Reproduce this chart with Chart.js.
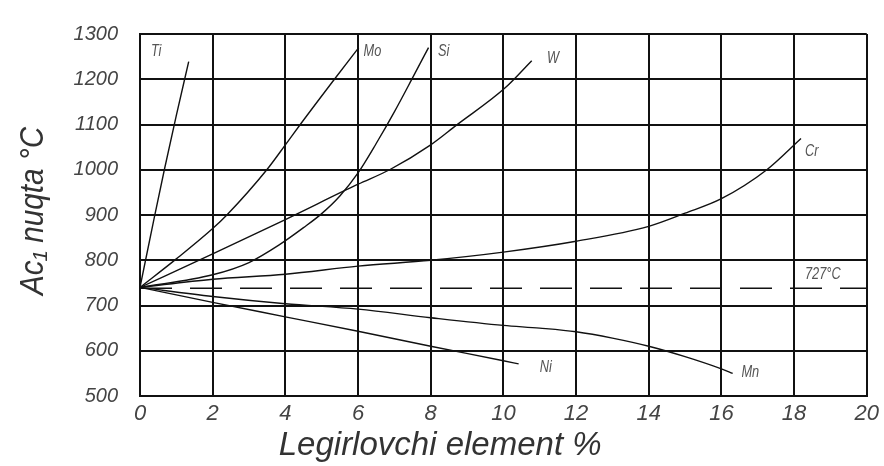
<!DOCTYPE html>
<html>
<head>
<meta charset="utf-8">
<script src="https://cdn.jsdelivr.net/npm/chart.js@4.4.1/dist/chart.umd.min.js"></script>
<style>
  html, body { margin: 0; padding: 0; background: #fff; }
  #wrap { width: 884px; height: 466px; }
</style>
</head>
<body>
<div id="wrap"><canvas id="chart" width="884" height="466"></canvas></div>
<script>
// Qotishma elementlari bo'yicha Ac1 nuqtasining o'zgarishi (rasmdan o'qilgan)
const tiX = [0, 0.39, 0.67, 1.0, 1.34];
const tiY = [740, 893, 1000, 1120, 1239];

const moX = [0, 1, 2, 2.39, 3.49, 4, 4.41, 5.35, 6.02];
const moY = [740, 803, 870, 900, 1000, 1055, 1100, 1200, 1270];

const siX = [0, 2, 3, 3.85, 4.5, 5, 5.5, 6, 6.5, 7, 7.5, 7.94];
const siY = [740, 768, 795, 835, 872, 903, 942, 993, 1058, 1128, 1203, 1270];

const wX = [0, 2, 4, 6, 6.87, 8, 8.7, 10.05, 10.78];
const wY = [740, 814, 890, 968, 1000, 1055, 1098, 1181, 1241];

const crX = [0, 2, 4, 6, 8, 10, 12, 14, 15, 16, 17.25, 18.19];
const crY = [740, 758, 769, 787, 800, 818, 842, 875, 904, 936, 1000, 1069];

const mnX = [0, 2, 4, 6, 8, 10, 11, 12, 13, 14, 15, 16, 16.31];
const mnY = [740, 720, 704, 692, 673, 656, 650, 642, 628, 610, 587, 560, 550];

const niX = [0, 2, 4, 6, 8, 10, 10.42];
const niY = [740, 707, 675, 643, 610, 578, 571];

const a1X = [0, 20];
const a1Y = [738, 738];

const xTicks = [0, 2, 4, 6, 8, 10, 12, 14, 16, 18, 20];
const yTicks = [500, 600, 700, 800, 900, 1000, 1100, 1200, 1300];

// egri chiziq yozuvlari (ma'lumot birliklarida)
const curveLabels = [
    { text: 'Ti', x: 0.3, y: 1261 },
    { text: 'Mo', x: 6.15, y: 1261 },
    { text: 'Si', x: 8.2, y: 1261 },
    { text: 'W', x: 11.2, y: 1246 },
    { text: 'Cr', x: 18.3, y: 1040 },
    { text: '727°C', x: 18.3, y: 769 },
    { text: 'Ni', x: 11.0, y: 563 },
    { text: 'Mn', x: 16.55, y: 552 },
];

const xTitle = 'Legirlovchi element %';
const yTitle = 'Ac₁ nuqta °C';

const fontFamily = '"Liberation Sans", "DejaVu Sans", sans-serif';

function toPoints(xs, ys) {
    return xs.map((x, i) => ({ x: x, y: ys[i] }));
}

function curve(xs, ys) {
    return {
        data: toPoints(xs, ys),
        borderColor: '#111',
        borderWidth: 1.4,
        pointRadius: 0,
        fill: false,
        cubicInterpolationMode: 'monotone'
    };
}

const datasets = [
    curve(tiX, tiY),
    curve(moX, moY),
    curve(siX, siY),
    curve(wX, wY),
    curve(crX, crY),
    curve(mnX, mnY),
    curve(niX, niY),
    {
        data: toPoints(a1X, a1Y),
        borderColor: '#111',
        borderWidth: 1.6,
        borderDash: [32, 18],
        pointRadius: 0,
        fill: false
    }
];

// yozuvlar va o'q nomlari (tor, kursiv chizma shrifti kabi)
const labelPlugin = {
    id: 'curveLabels',
    afterDatasetsDraw(chart) {
        const ctx = chart.ctx;
        const xs = chart.scales.x, ys = chart.scales.y;
        const area = chart.chartArea;
        ctx.save();
        ctx.font = 'italic 16px ' + fontFamily;
        ctx.fillStyle = '#555';
        ctx.textBaseline = 'middle';
        ctx.textAlign = 'left';
        curveLabels.forEach(l => {
            const px = xs.getPixelForValue(l.x), py = ys.getPixelForValue(l.y);
            ctx.save();
            ctx.translate(px, py);
            ctx.scale(0.8, 1);
            ctx.fillText(l.text, 0, 0);
            ctx.restore();
        });

        // x o'qi nomi
        ctx.fillStyle = '#333';
        ctx.font = 'italic 33px ' + fontFamily;
        ctx.textAlign = 'center';
        ctx.save();
        ctx.translate(area.left + (area.right - area.left) * 0.413, 446);
        ctx.fillText(xTitle, 0, 0);
        ctx.restore();

        // y o'qi nomi
        ctx.save();
        ctx.translate(34, (area.top + area.bottom) / 2 - 4);
        ctx.rotate(-Math.PI / 2);
        ctx.scale(0.9, 1);
        ctx.fillText(yTitle, 0, 0);
        ctx.restore();
        ctx.restore();
    }
};

new Chart(document.getElementById('chart'), {
    type: 'line',
    data: { datasets: datasets },
    plugins: [labelPlugin],
    options: {
        responsive: false,
        animation: false,
        layout: { padding: { top: 27, right: 16, left: 0, bottom: 0 } },
        plugins: {
            legend: { display: false },
            tooltip: { enabled: false }
        },
        scales: {
            x: {
                type: 'linear',
                min: 0,
                max: 20,
                afterBuildTicks: s => { s.ticks = xTicks.map(v => ({ value: v })); },
                afterFit: s => { s.height = 70; },
                grid: { color: '#111', lineWidth: 2, drawTicks: false },
                border: { color: '#111', width: 2 },
                ticks: {
                    padding: 5,
                    color: '#444',
                    font: { family: fontFamily, size: 22, style: 'italic' },
                    callback: v => String(v)
                }
            },
            y: {
                type: 'linear',
                min: 500,
                max: 1300,
                afterBuildTicks: s => { s.ticks = yTicks.map(v => ({ value: v })); },
                afterFit: s => { s.width = 140; },
                grid: { color: '#111', lineWidth: 2, drawTicks: false },
                border: { color: '#111', width: 2 },
                ticks: {
                    padding: 22,
                    color: '#444',
                    font: { family: fontFamily, size: 20, style: 'italic' },
                    callback: v => String(v)
                }
            }
        }
    }
});
</script>
</body>
</html>
